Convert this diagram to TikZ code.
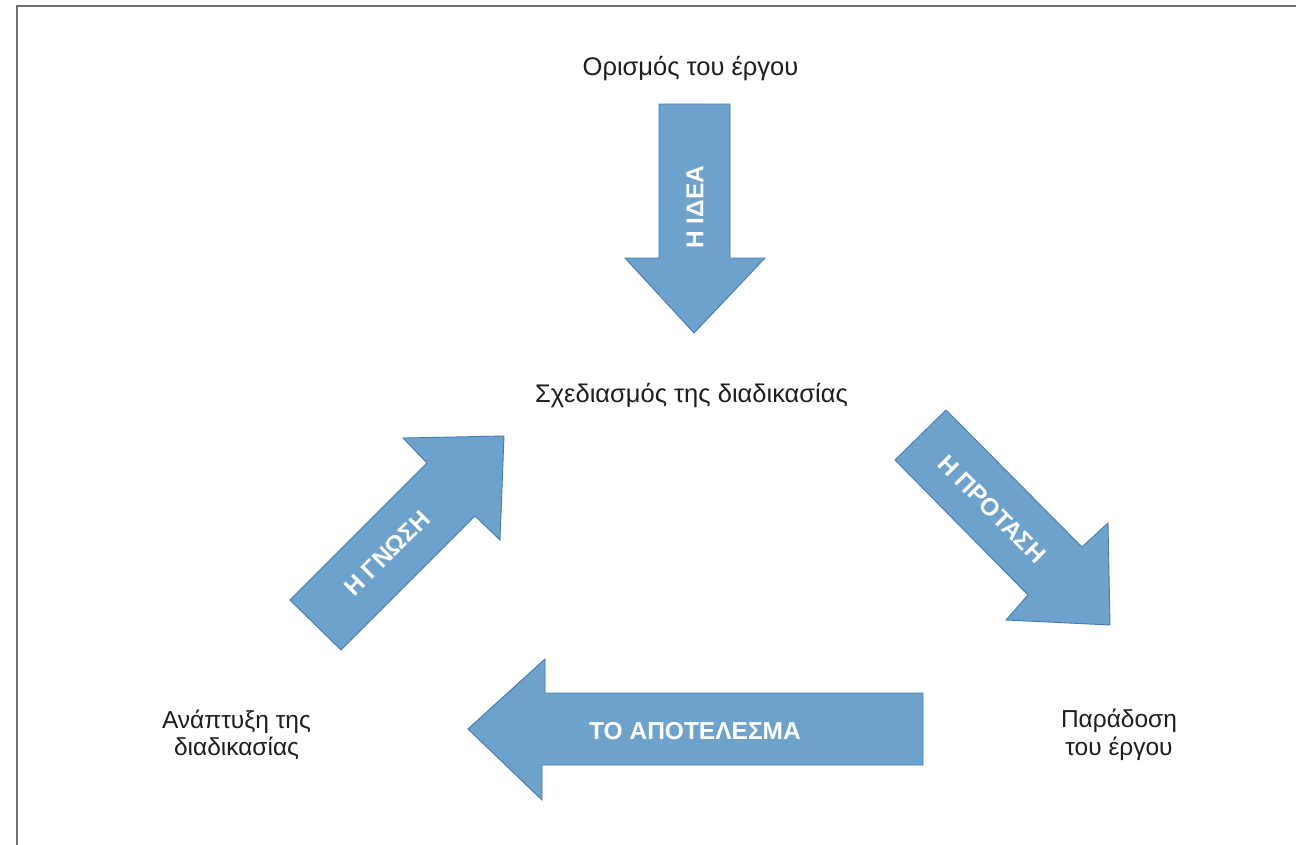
\documentclass[tikz,border=0pt]{standalone}
\usepackage{fontspec}
\setmainfont{Liberation Sans}
\definecolor{arrowfill}{HTML}{6DA2CD}
\definecolor{arrowedge}{HTML}{3F7DB3}
\definecolor{frameline}{HTML}{707070}
\definecolor{labeltext}{HTML}{1E1E1E}
\tikzset{
  blockarrow/.style={fill=arrowfill, draw=arrowedge, line width=0.9pt, line join=miter},
  stage/.style={font=\fontsize{25.5}{27.5}\selectfont, text=labeltext, align=center, inner sep=0pt},
  stagetwo/.style={stage, font=\fontsize{24.5}{27.5}\selectfont},
  arrowtext/.style={font=\fontsize{24.5}{28}\selectfont\bfseries, text=white, inner sep=0pt},
}
\begin{document}
\begin{tikzpicture}[x=1pt, y=-1pt]
\useasboundingbox (0,0) rectangle (1296,844);
\fill[white] (0,0) rectangle (1296,844);
\begin{scope}
  \clip (0,0) rectangle (1296,844);
  \draw[frameline, line width=2pt] (17,6) rectangle (1330,880);
\end{scope}

% stages of the cycle
\node[stage, anchor=base] (define) at (690.5,75) {Ορισμός του έργου};
\node[stage, anchor=base] (design) at (691.5,402) {Σχεδιασμός της διαδικασίας};
\node[stagetwo] (develop) at (236.5,735) {Ανάπτυξη της\\διαδικασίας};
\node[stagetwo] (deliver) at (1119,735) {Παράδοση\\του έργου};

% down arrow: definition -> design
\draw[blockarrow] (659,104) -- (730,104) -- (730,258) -- (765,258) -- (694,333)
  -- (625,258) -- (659,258) -- cycle;
\node[arrowtext, rotate=90] (idea) at (695,207) {Η ΙΔΕΑ};

% diagonal arrow: design -> delivery
\draw[blockarrow] (946,410) -- (1082,547) -- (1108,523) -- (1110,625)
  -- (1006,620) -- (1028,595) -- (895,460) -- cycle;
\node[arrowtext, rotate=-45] (proposal) at (992,509) {Η ΠΡΟΤΑΣΗ};

% left arrow: delivery -> development
\draw[blockarrow] (923,693) -- (923,765) -- (542,765) -- (542,800) -- (468,729)
  -- (545,659) -- (545,693) -- cycle;
\node[arrowtext] (result) at (695,731) {ΤΟ ΑΠΟΤΕΛΕΣΜΑ};

% diagonal arrow: development -> design
\draw[blockarrow] (341,650) -- (475,516) -- (500,540) -- (504,436)
  -- (403,438) -- (427,463) -- (290,600) -- cycle;
\node[arrowtext, rotate=45] (knowledge) at (387,553) {Η ΓΝΩΣΗ};
\end{tikzpicture}
\end{document}
